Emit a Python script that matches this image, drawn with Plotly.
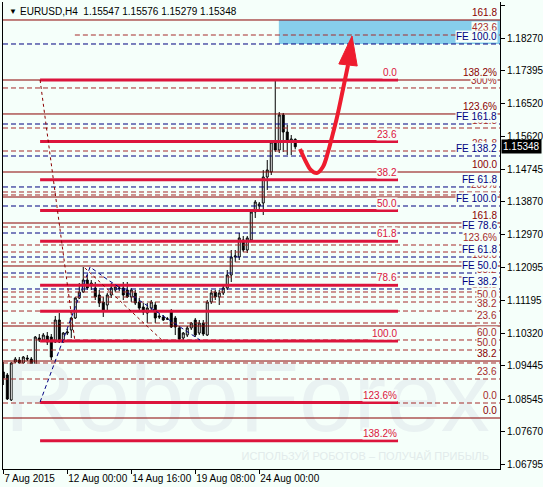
import plotly.graph_objects as go

# EURUSD H4 candles, index 0 = 7 Aug 2015
opens = [1.09276, 1.09195, 1.08521, 1.09545, 1.09599, 1.09518, 1.09653, 1.09626, 1.09437, 1.10192,
         1.10138, 1.10246, 1.10219, 1.10085, 1.10678, 1.10085, 1.10327, 1.10408, 1.10732, 1.11271,
         1.11433, 1.11756, 1.11621, 1.11541, 1.11352, 1.11163, 1.11082, 1.11352, 1.11487, 1.11541,
         1.11541, 1.11487, 1.11298, 1.11406, 1.11163, 1.11028, 1.10866, 1.11001, 1.11082, 1.10786,
         1.10759, 1.10705, 1.10893, 1.10732, 1.10462, 1.10192, 1.10273, 1.10462, 1.10678, 1.10327,
         1.10597, 1.10273, 1.11163, 1.11433, 1.11298, 1.11406, 1.11541, 1.11891, 1.12376, 1.12376,
         1.12835, 1.12565, 1.12835, 1.13590, 1.13751, 1.13832, 1.14533, 1.14668, 1.15477, 1.15261,
         1.16205, 1.15746, 1.15477, 1.15547]
highs = [1.09545, 1.09249, 1.09545, 1.09680, 1.09680, 1.09707, 1.09734, 1.09680, 1.10246, 1.10300,
         1.10327, 1.10354, 1.10300, 1.10786, 1.10866, 1.10354, 1.10435, 1.10759, 1.11298, 1.11675,
         1.12107, 1.11891, 1.11756, 1.11702, 1.11487, 1.11298, 1.11406, 1.11675, 1.11648, 1.11621,
         1.11702, 1.11702, 1.11541, 1.11487, 1.11271, 1.11136, 1.11136, 1.11217, 1.11163, 1.10839,
         1.10812, 1.10759, 1.10974, 1.10786, 1.10516, 1.10354, 1.10516, 1.10624, 1.10732, 1.10678,
         1.10678, 1.11217, 1.11487, 1.11487, 1.11487, 1.11621, 1.12026, 1.12565, 1.12565, 1.13023,
         1.12943, 1.12943, 1.13643, 1.13913, 1.13859, 1.14722, 1.14991, 1.15531, 1.17148, 1.16285,
         1.16259, 1.15935, 1.15665, 1.15576]
lows = [1.08925, 1.08521, 1.08494, 1.09518, 1.09464, 1.09491, 1.09572, 1.09383, 1.09410, 1.10085,
        1.10111, 1.10004, 1.09599, 1.10058, 1.10058, 1.10058, 1.10273, 1.10192, 1.10705, 1.11244,
        1.11406, 1.11487, 1.11487, 1.11217, 1.11028, 1.10759, 1.10947, 1.11271, 1.11433, 1.11460,
        1.11217, 1.11271, 1.11163, 1.11082, 1.10947, 1.10812, 1.10597, 1.10947, 1.10597, 1.10705,
        1.10651, 1.10678, 1.10462, 1.10273, 1.10138, 1.10138, 1.10219, 1.10408, 1.10219, 1.10273,
        1.10246, 1.10246, 1.11109, 1.11217, 1.11082, 1.11352, 1.11487, 1.11702, 1.12242, 1.12295,
        1.12511, 1.12484, 1.12781, 1.13428, 1.13670, 1.13508, 1.14183, 1.14587, 1.15207, 1.15180,
        1.15207, 1.15126, 1.15126, 1.15279]
closes = [1.09114, 1.08548, 1.09518, 1.09626, 1.09518, 1.09680, 1.09626, 1.09464, 1.10219, 1.10138,
          1.10273, 1.10085, 1.09680, 1.10678, 1.10085, 1.10327, 1.10354, 1.10732, 1.11271, 1.11433,
          1.11756, 1.11541, 1.11675, 1.11298, 1.11136, 1.10947, 1.11352, 1.11541, 1.11567, 1.11530,
          1.11352, 1.11298, 1.11487, 1.11136, 1.11001, 1.10893, 1.11001, 1.11163, 1.10732, 1.10759,
          1.10678, 1.10710, 1.10489, 1.10489, 1.10165, 1.10327, 1.10462, 1.10597, 1.10273, 1.10597,
          1.10300, 1.11163, 1.11406, 1.11298, 1.11406, 1.11541, 1.11891, 1.12376, 1.12403, 1.12889,
          1.12565, 1.12889, 1.13590, 1.13859, 1.13805, 1.14533, 1.14722, 1.15477, 1.15261, 1.16205,
          1.15746, 1.15477, 1.15558, 1.15348]

tick_pos = [0, 16, 32, 48, 64]
tick_text = ["7 Aug 2015", "12 Aug 00:00", "14 Aug 16:00", "19 Aug 08:00", "24 Aug 00:00"]

price_ticks = [1.19170, 1.18270, 1.17395, 1.16520, 1.15620, 1.14745, 1.13870, 1.12970,
               1.12095, 1.11195, 1.10320, 1.09445, 1.08545, 1.07670, 1.06795]

# Fibo retracement (thick)
fibo_levels = [1.17148, 1.15488, 1.14460, 1.13630, 1.12800, 1.11618, 1.10914, 1.10112, 1.08452, 1.07424]
fibo_labels = ["0.0", "23.6", "38.2", "50.0", "61.8", "78.6", "", "100.0", "123.6%", "138.2%"]

# other levels
solid_levels = [1.18766, 1.17148, 1.16232, 1.14668, 1.13994, 1.13293, 1.12134, 1.10516, 1.09572, 1.08036]
solid_labels = ["161.8", "138.2%", "123.6%", "100.0", "", "161.8", "", "", "38.2", "0.0"]

dash_levels = [1.16933, 1.15854, 1.15234, 1.14129, 1.14048, 1.13185, 1.12700, 1.12511, 1.12242,
               1.11837, 1.11433, 1.11298, 1.11163, 1.10920, 1.10597, 1.10139, 1.09869, 1.09519,
               1.09087, 1.08440]
dash_labels = ["300%", "161.8", "261.8", "200%", "", "", "123.6%", "", "100.0",
               "38.2", "161.8", "", "50.0", "38.2", "23.6", "60.0", "50.0", "",
               "23.6", "0.0"]
ext_level = 1.18361
ext_label = "423.6"

fe_levels = [1.18119, 1.15962, 1.15099, 1.14264, 1.13751, 1.13023, 1.12376, 1.11945, 1.11514]
fe_labels = ["FE 100.0", "FE 161.8", "FE 138.2", "FE 61.8", "FE 100.0", "FE 78.6",
             "FE 61.8", "FE 50.0", "FE 38.2"]

target_zone = [1.18119, 1.18766]

# trend lines of the fibo tools
fibo_trend_x = [9.2, 17.9]
fibo_trend_y = [1.17148, 1.10112]
fibo2_trend_x = [20.4, 39.9]
fibo2_trend_y = [1.12080, 1.10112]
fe_trend_x = [9.2, 21.7, 26.2, 49.2]
fe_trend_y = [1.08467, 1.12107, 1.11756, 1.10138]

# forecast arrow
arrow_x = [74.2, 75.7, 76.9, 78.4, 79.9, 81.2, 82.2, 83.4, 84.9, 86.2]
arrow_y = [1.15288, 1.14937, 1.14722, 1.14641, 1.14803, 1.15207, 1.15612, 1.16124, 1.16879, 1.17553]
head_x = [83.9, 87.2, 88.5, 83.9]
head_y = [1.17580, 1.18334, 1.17526, 1.17580]

BG = "#F5FFFA"
FONT = "Liberation Sans, Arial, sans-serif"
X_MIN, X_MAX = -0.075, 124.2
Y_MIN, Y_MAX = 1.06661, 1.19251
FIB_X0, FIB_X1 = 9.2, 98.7
LBL_X = 123.7

RED = "#8B0000"
DRED = "#A52A2A"
NAVY = "#000080"
CRIMSON = "#DC143C"


def segs(levels, x0, x1):
    xs, ys = [], []
    for v in levels:
        xs += [x0, x1, None]
        ys += [v, v, None]
    return xs, ys


fig = go.Figure()

# watermark
fig.add_trace(go.Scatter(x=[61], y=[1.0835], mode="text", text=["RoboForex"],
                         textfont=dict(size=98, color="#E9F2F2", family=FONT),
                         hoverinfo="skip"))
fig.add_trace(go.Scatter(x=[90.5], y=[1.0699], mode="text",
                         text=["ИСПОЛЬЗУЙ РОБОТОВ – ПОЛУЧАЙ ПРИБЫЛЬ"],
                         textfont=dict(size=11, color="#E2EBEB", family=FONT),
                         hoverinfo="skip"))

fig.add_shape(type="rect", x0=68.9, x1=X_MAX, y0=target_zone[0], y1=target_zone[1],
              fillcolor="#87CEEB", line=dict(width=0), layer="below")

xs, ys = segs(solid_levels, X_MIN, X_MAX)
fig.add_trace(go.Scatter(x=xs, y=ys, mode="lines", line=dict(color=RED, width=1), hoverinfo="skip"))
xs, ys = segs(dash_levels, X_MIN, X_MAX)
xs2, ys2 = segs([ext_level], 17.9, X_MAX)
fig.add_trace(go.Scatter(x=xs + xs2, y=ys + ys2, mode="lines",
                         line=dict(color=DRED, width=1, dash="5px,3px"), hoverinfo="skip"))
xs, ys = segs(fe_levels, X_MIN, X_MAX)
fig.add_trace(go.Scatter(x=xs, y=ys, mode="lines",
                         line=dict(color=NAVY, width=1, dash="5px,3px"), hoverinfo="skip"))
xs, ys = segs(fibo_levels, FIB_X0, FIB_X1)
fig.add_trace(go.Scatter(x=xs, y=ys, mode="lines", line=dict(color=CRIMSON, width=3), hoverinfo="skip"))

fig.add_trace(go.Scatter(x=fibo_trend_x, y=fibo_trend_y, mode="lines",
                         line=dict(color=RED, width=1, dash="3px,3px"), hoverinfo="skip"))
fig.add_trace(go.Scatter(x=fibo2_trend_x, y=fibo2_trend_y, mode="lines",
                         line=dict(color=RED, width=1, dash="3px,3px"), hoverinfo="skip"))
fig.add_trace(go.Scatter(x=fe_trend_x, y=fe_trend_y, mode="lines",
                         line=dict(color=NAVY, width=1, dash="4px,3px"), hoverinfo="skip"))

fig.add_trace(go.Candlestick(
    x=list(range(len(opens))), open=opens, high=highs, low=lows, close=closes,
    increasing=dict(line=dict(color="black", width=1), fillcolor="white"),
    decreasing=dict(line=dict(color="black", width=1), fillcolor="black"),
    hoverinfo="skip"))

fig.add_trace(go.Scatter(x=arrow_x, y=arrow_y, mode="lines",
                         line=dict(color="#EE1C2E", width=4, shape="spline"), hoverinfo="skip"))
fig.add_trace(go.Scatter(x=head_x, y=head_y, mode="lines", fill="toself",
                         fillcolor="#EE1C2E", line=dict(color="#EE1C2E", width=1), hoverinfo="skip"))

ann = []


def add_labels(levels, labels, x, color):
    for v, t in zip(levels, labels):
        if not t:
            continue
        ann.append(dict(x=x, y=v, xref="x", yref="y", text=t, showarrow=False,
                        xanchor="right", yanchor="bottom", yshift=1, borderpad=0,
                        bgcolor=BG,
                        font=dict(size=10, color=color, family=FONT)))


add_labels(dash_levels, dash_labels, LBL_X, DRED)
add_labels([ext_level], [ext_label], LBL_X, DRED)
add_labels(solid_levels, solid_labels, LBL_X, RED)
add_labels(fe_levels, fe_labels, LBL_X, NAVY)
add_labels(fibo_levels, fibo_labels, FIB_X1, CRIMSON)

ann.append(dict(x=0, y=1, xref="paper", yref="paper", text="▼", showarrow=False,
                xanchor="left", yanchor="top", xshift=4, yshift=-3,
                font=dict(size=8, color="black", family=FONT)))
ann.append(dict(x=0, y=1, xref="paper", yref="paper",
                text="EURUSD,H4  1.15547 1.15576 1.15279 1.15348", showarrow=False,
                xanchor="left", yanchor="top", xshift=15, yshift=-2,
                font=dict(size=10, color="black", family=FONT)))
ann.append(dict(x=1, y=closes[-1], xref="paper", yref="y", text=f"{closes[-1]:.5f}",
                showarrow=False, xanchor="left", yanchor="middle", xshift=1,
                bgcolor="black", borderpad=1,
                font=dict(size=10, color="white", family=FONT)))

fig.update_layout(
    width=543, height=487,
    margin=dict(l=3, r=43, t=2, b=18),
    paper_bgcolor=BG, plot_bgcolor=BG,
    showlegend=False,
    annotations=ann,
    xaxis=dict(range=[X_MIN, X_MAX], tickvals=tick_pos, ticktext=tick_text,
               ticks="outside", ticklen=4, tickcolor="black", tickangle=0,
               ticklabelposition="outside right", automargin=False,
               showgrid=False, zeroline=False, showline=True, linecolor="black",
               tickfont=dict(size=10, color="black", family=FONT),
               rangeslider=dict(visible=False)),
    yaxis=dict(side="right", range=[Y_MIN, Y_MAX], tickvals=price_ticks,
               ticktext=[f"{v:.5f}" for v in price_ticks],
               ticks="outside", ticklen=4, tickcolor="black", automargin=False,
               showgrid=False, zeroline=False, showline=True, mirror=True,
               linecolor="black",
               tickfont=dict(size=10, color="black", family=FONT)),
)

fig.write_html("out.html", config={"displayModeBar": False},
               post_script="document.body.style.margin='0';")
